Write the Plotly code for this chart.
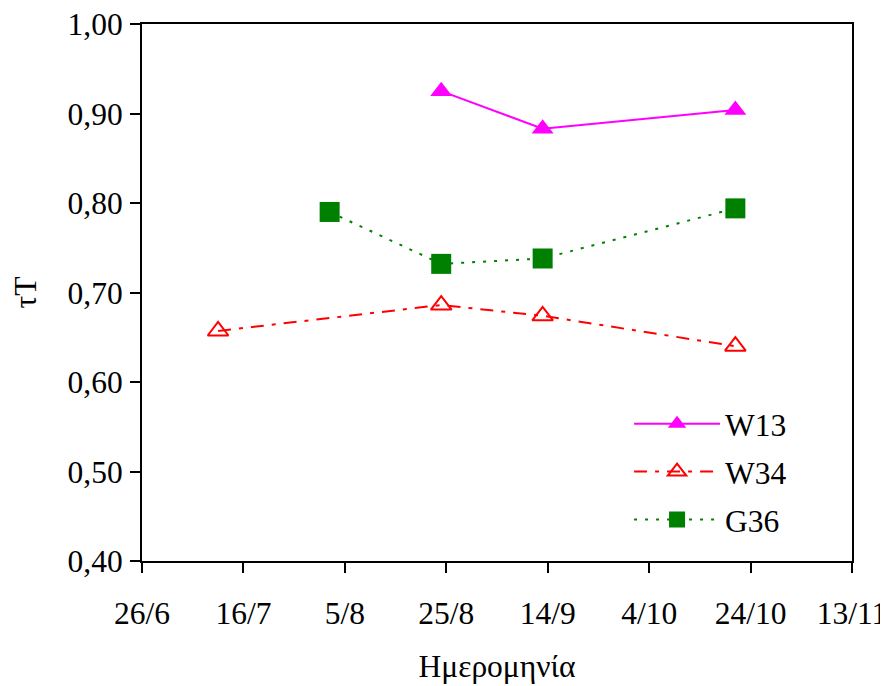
import plotly.graph_objects as go

# ---- data ----
w13_dates = ["2006-08-24", "2006-09-13", "2006-10-21"]
w13_vals = [0.925, 0.883, 0.904]

w34_dates = ["2006-07-11", "2006-08-24", "2006-09-13", "2006-10-21"]
w34_vals = [0.657, 0.686, 0.674, 0.640]

g36_dates = ["2006-08-02", "2006-08-24", "2006-09-13", "2006-10-21"]
g36_vals = [0.790, 0.732, 0.738, 0.794]

x_tickvals = ["2006-06-26", "2006-07-16", "2006-08-05", "2006-08-25",
              "2006-09-14", "2006-10-04", "2006-10-24", "2006-11-13"]
x_ticktext = ["26/6", "16/7", "5/8", "25/8", "14/9", "4/10", "24/10", "13/11"]

y_tickvals = [0.40, 0.50, 0.60, 0.70, 0.80, 0.90, 1.00]

FONT = "Liberation Serif, Times New Roman, serif"
FS = 31.5

fig = go.Figure()
fig.add_trace(go.Scatter(
    x=w13_dates, y=w13_vals, name="W13", mode="lines+markers",
    legendgroup="a",
    line=dict(color="#FF00FF", width=2),
    marker=dict(symbol="triangle-up", size=19, color="#FF00FF", line=dict(width=0)),
))
fig.add_trace(go.Scatter(
    x=w34_dates, y=w34_vals, name="W34", mode="lines+markers",
    legendgroup="b",
    line=dict(color="#FF0000", width=2, dash="13px,8px,4px,8px"),
    marker=dict(symbol="triangle-up-open", size=18, color="#FF0000",
                line=dict(width=2, color="#FF0000")),
))
fig.add_trace(go.Scatter(
    x=g36_dates, y=g36_vals, name="G36", mode="lines+markers",
    legendgroup="c",
    line=dict(color="#008000", width=2, dash="3px,8px"),
    marker=dict(symbol="square", size=20, color="#008000", line=dict(width=0)),
))

fig.update_layout(
    width=880, height=678,
    margin=dict(l=134, r=36, t=16, b=125),
    paper_bgcolor="white", plot_bgcolor="white",
    separators=",.",
    font=dict(family=FONT, size=FS, color="black"),
    showlegend=True,
    legend=dict(x=0.686, y=0.306, xanchor="left", yanchor="top",
                itemwidth=86,
                bgcolor="rgba(0,0,0,0)", tracegroupgap=4,
                font=dict(family=FONT, size=FS, color="black")),
)
fig.update_xaxes(
    type="date", automargin=False,
    range=["2006-06-26", "2006-11-13"],
    tickvals=x_tickvals, ticktext=x_ticktext,
    ticklabeloverflow="allow",
    showgrid=False, zeroline=False,
    showline=True, linecolor="black", linewidth=2, mirror=True,
    ticks="outside", ticklen=10, tickwidth=2, tickcolor="black",
    ticklabelstandoff=13,
    title=dict(text="Ημερομηνία", standoff=25, font=dict(family=FONT, size=FS)),
)
fig.update_yaxes(
    automargin=False,
    range=[0.40, 1.00],
    tickvals=y_tickvals, tickformat=".2f",
    ticklabeloverflow="allow",
    showgrid=False, zeroline=False,
    showline=True, linecolor="black", linewidth=2, mirror=True,
    ticks="outside", ticklen=10, tickwidth=2, tickcolor="black",
    ticklabelstandoff=1,
    title=dict(text="τT", standoff=28, font=dict(family=FONT, size=FS)),
)

fig.write_html("out.html")
